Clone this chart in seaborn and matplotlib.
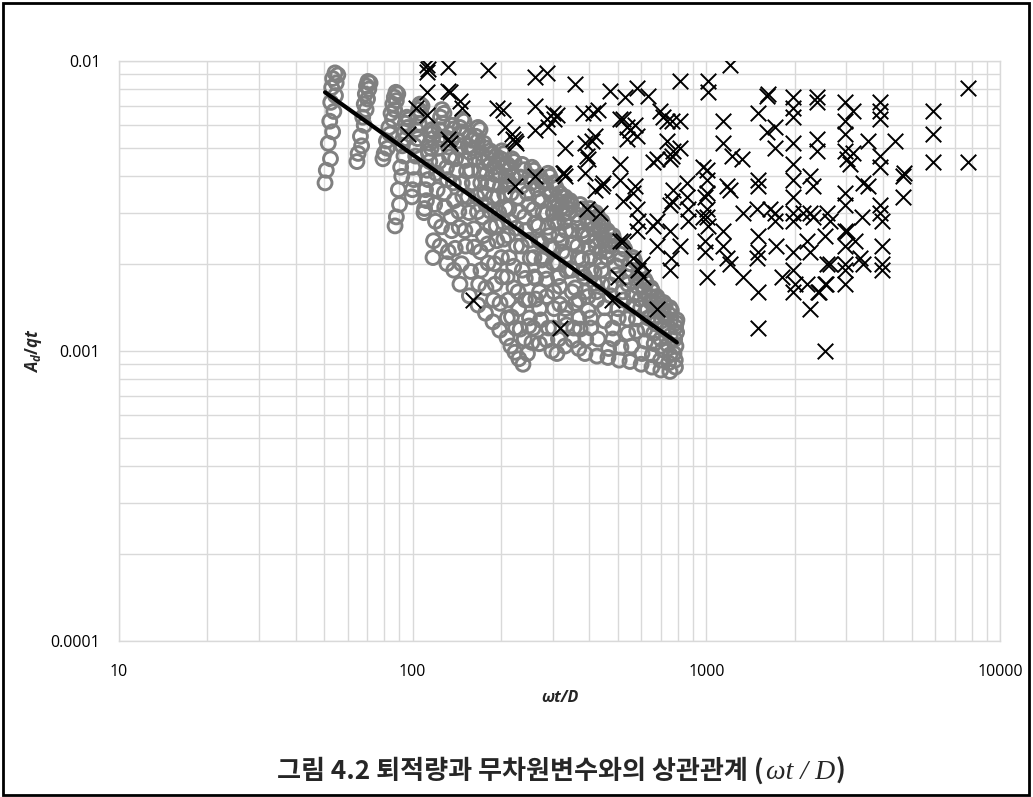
import matplotlib
matplotlib.use("Agg")
import matplotlib.pyplot as plt
import seaborn as sns
import pandas as pd
from matplotlib.ticker import FixedLocator, FixedFormatter, LogLocator, NullFormatter
from matplotlib.patches import Rectangle

# Gray open circles: deposition ratio per run, one row per streak (omega t / D, A_d / qt)
circle_x = [
    54.4, 55.6, 53.4, 54.9, 53.0, 54.6, 52.6, 53.9, 52.2, 53.4, 51.6, 52.5, 50.8, 50.3,
    70.4, 71.6, 69.6, 70.9, 69.0, 70.2, 68.4, 69.4, 67.6, 68.4, 66.4, 67.0, 65.2, 64.6,
    87.7, 89.0, 86.6, 88.0, 85.6, 86.8, 84.4, 85.4, 83.0, 83.8, 81.4, 82.0, 80.0, 79.2,
    95.6, 97.0, 94.4, 96.0, 93.6, 94.8, 92.2, 93.4, 91.0, 91.8, 89.4, 90.2, 88.0, 87.1,
    105.9, 107.6, 104.8, 106.6, 104.0, 105.2, 102.8, 104.0, 101.6, 102.4, 100.2, 101.0, 99.8, 99.4,
    116.4, 118.0, 115.2, 117.0, 114.4, 115.6, 113.2, 114.4, 112.0, 112.8, 110.6, 111.4, 109.8, 109.3,
    125.8, 127.8, 124.4, 126.4, 123.2, 124.6, 121.8, 123.0, 120.4, 121.2, 118.8, 119.6, 117.8, 117.3,
    147.2, 149.6, 144.8, 146.8, 142.6, 144.0, 140.0, 141.4, 137.6, 138.6, 135.0, 135.8, 132.2, 130.8,
    166.9, 169.6, 164.2, 166.6, 161.4, 163.0, 158.0, 159.6, 154.4, 155.6, 150.6, 151.4, 146.6, 144.9,
    183.4, 186.4, 181.0, 183.6, 178.6, 180.4, 175.8, 177.4, 173.0, 174.0, 170.0, 170.8, 167.8, 166.9,
    201.4, 204.6, 199.4, 202.4, 197.2, 199.0, 194.8, 196.4, 192.6, 193.6, 190.0, 190.8, 188.4, 187.7,
    217.9, 221.4, 215.6, 219.0, 214.0, 216.4, 212.4, 214.8, 211.0, 213.2, 209.6, 211.8, 210.0, 209.5,
    254.8, 258.6, 250.4, 253.8, 245.8, 248.4, 240.4, 242.6, 234.6, 236.2, 228.6, 229.6, 224.2, 223.0,
    288.9, 293.0, 282.8, 286.0, 275.6, 278.0, 267.6, 269.4, 258.8, 259.8, 249.4, 249.8, 240.0, 237.5,
    317.3, 321.4, 310.2, 313.2, 301.4, 303.8, 292.2, 293.8, 281.6, 282.4, 270.4, 270.6, 257.4, 254.8,
    343.2, 347.6, 336.8, 340.4, 329.6, 332.4, 321.2, 323.2, 312.4, 313.6, 302.6, 303.2, 290.0, 286.6,
    401.5, 406.0, 391.6, 395.0, 378.6, 381.2, 364.0, 365.8, 348.2, 349.0, 331.4, 331.2, 313.6, 309.9,
    441.1, 446.0, 431.2, 435.0, 418.2, 421.2, 402.6, 404.8, 385.6, 386.6, 368.4, 368.6, 353.8, 351.4,
    480.8, 486.0, 470.2, 474.0, 456.2, 459.6, 439.8, 442.2, 421.8, 423.0, 403.6, 404.0, 388.6, 386.1,
    562.6, 568.8, 550.6, 555.0, 536.4, 540.4, 519.8, 522.6, 499.6, 501.2, 479.8, 480.4, 464.8, 462.4,
    617.9, 624.0, 608.6, 612.4, 594.6, 597.6, 578.0, 579.2, 556.0, 549.5,
    678.9, 686.0, 672.6, 679.4, 667.4, 672.0, 661.4, 664.4, 655.0, 652.9,
    751.7, 760.0, 744.0, 756.0, 742.0, 754.0, 740.0, 752.0, 744.0, 751.7,
    794.0, 790.0, 786.0, 792.0, 780.0, 788.0, 776.0, 784.0, 785.0,
    136.0, 138.0, 134.0, 135.8, 132.4, 133.6, 130.4, 131.2, 128.2, 128.6, 125.4, 124.0,
    157.0, 159.6, 154.4, 156.4, 151.2, 152.6, 147.4, 148.2, 143.6, 144.0, 139.6, 138.0,
    175.0, 177.8, 172.4, 174.4, 169.2, 170.6, 165.4, 166.2, 161.6, 162.0, 157.6, 156.0,
    192.0, 195.0, 189.6, 191.6, 186.8, 188.0, 183.4, 184.2, 180.2, 180.6, 177.6, 177.0,
    210.0, 213.4, 208.0, 210.6, 205.8, 207.4, 203.2, 204.4, 200.6, 201.6, 198.4, 198.0,
    236.0, 239.6, 232.6, 235.0, 228.6, 230.4, 224.6, 225.8, 220.8, 221.4, 217.0, 216.0,
    271.0, 275.4, 265.0, 268.2, 258.4, 260.6, 250.2, 251.4, 241.8, 242.0, 232.4, 230.0,
    303.0, 308.0, 295.0, 298.6, 286.0, 288.4, 274.6, 275.8, 262.4, 262.6, 249.0, 246.0,
    330.0, 335.4, 321.6, 325.6, 311.8, 314.4, 299.6, 300.8, 285.8, 286.0, 272.6, 270.0,
    372.0, 378.0, 361.6, 366.0, 349.0, 352.0, 333.6, 335.0, 316.8, 317.0, 301.0, 298.0,
    420.0, 427.0, 408.0, 413.0, 394.4, 397.6, 376.6, 378.4, 357.6, 358.0, 334.0, 330.0,
    460.0, 467.0, 447.6, 452.4, 433.4, 436.4, 414.8, 416.6, 395.6, 396.0, 372.0, 368.0,
    520.0, 527.6, 507.2, 512.4, 491.2, 494.6, 471.2, 473.0, 450.0, 450.4, 428.0, 424.0,
    590.0, 598.0, 578.0, 583.0, 561.0, 563.4, 538.6, 540.0, 512.0, 505.0,
    648.0, 655.0, 639.0, 645.0, 630.0, 634.0, 618.0, 621.0, 604.0, 600.0,
    715.0, 724.0, 708.0, 718.0, 704.0, 713.0, 700.0, 709.0, 698.0, 700.0,
]
circle_y = [
    0.0091, 0.00895, 0.0087, 0.0084, 0.0081, 0.0076, 0.0072, 0.0067, 0.0062, 0.0057, 0.0052, 0.0046, 0.0042, 0.0038,
    0.0085, 0.0084, 0.0082, 0.0080, 0.0077, 0.0074, 0.0071, 0.0068, 0.0064, 0.0060, 0.0055, 0.0051, 0.0048, 0.0045,
    0.0078, 0.0077, 0.0075, 0.0073, 0.0071, 0.0068, 0.0066, 0.0063, 0.0059, 0.0056, 0.0053, 0.0050, 0.0048, 0.0046,
    0.0064, 0.0063, 0.0061, 0.0059, 0.0057, 0.0054, 0.0051, 0.0047, 0.0043, 0.0040, 0.0036, 0.0032, 0.0029, 0.0027,
    0.0071, 0.0070, 0.0068, 0.0066, 0.0064, 0.0061, 0.0058, 0.0054, 0.0051, 0.0047, 0.0043, 0.0039, 0.0036, 0.0034,
    0.0058, 0.0057, 0.0056, 0.0054, 0.0052, 0.0050, 0.0048, 0.0045, 0.0042, 0.0039, 0.0036, 0.0033, 0.0031, 0.0030,
    0.0068, 0.0066, 0.0064, 0.0061, 0.0058, 0.0054, 0.0050, 0.0045, 0.0041, 0.0036, 0.0032, 0.0028, 0.0024, 0.0021,
    0.0063, 0.0062, 0.0059, 0.0057, 0.0053, 0.0050, 0.0046, 0.0042, 0.0038, 0.0033, 0.0029, 0.0026, 0.0022, 0.0020,
    0.0059, 0.0058, 0.0055, 0.0053, 0.0050, 0.0046, 0.0042, 0.0038, 0.0034, 0.0030, 0.0026, 0.0023, 0.0020, 0.0017,
    0.0049, 0.0048, 0.0046, 0.0044, 0.0041, 0.0038, 0.0035, 0.0032, 0.0029, 0.0025, 0.0022, 0.0019, 0.0017, 0.00144,
    0.0049, 0.0048, 0.0046, 0.0043, 0.0041, 0.0037, 0.0034, 0.0030, 0.0027, 0.0024, 0.0020, 0.0017, 0.0015, 0.00126,
    0.0046, 0.0045, 0.0043, 0.0040, 0.0038, 0.0035, 0.0031, 0.0028, 0.0025, 0.0021, 0.0018, 0.0015, 0.0013, 0.00111,
    0.0043, 0.0042, 0.0040, 0.0038, 0.0035, 0.0032, 0.0029, 0.0026, 0.0023, 0.0019, 0.0016, 0.0014, 0.0012, 0.00099,
    0.0041, 0.0040, 0.0038, 0.0036, 0.0033, 0.0030, 0.0027, 0.0024, 0.0021, 0.0018, 0.0015, 0.0013, 0.0011, 0.00090,
    0.0035, 0.0034, 0.0033, 0.0032, 0.0030, 0.0028, 0.0025, 0.0023, 0.0021, 0.0019, 0.0016, 0.0014, 0.0012, 0.00107,
    0.0033, 0.0032, 0.0031, 0.0030, 0.0028, 0.0026, 0.0024, 0.0022, 0.0020, 0.0018, 0.0016, 0.0014, 0.0012, 0.00109,
    0.0031, 0.0030, 0.0029, 0.0028, 0.0026, 0.0025, 0.0023, 0.0021, 0.0019, 0.0016, 0.0014, 0.0013, 0.0011, 0.00098,
    0.0028, 0.0027, 0.0027, 0.0026, 0.0024, 0.0023, 0.0021, 0.0019, 0.0018, 0.0016, 0.0015, 0.0013, 0.0012, 0.00109,
    0.0025, 0.0024, 0.0024, 0.0023, 0.0022, 0.0021, 0.0019, 0.0017, 0.0016, 0.0015, 0.0013, 0.0012, 0.0011, 0.00098,
    0.0021, 0.00205, 0.0020, 0.0019, 0.0018, 0.0017, 0.0016, 0.0015, 0.0014, 0.0013, 0.0012, 0.00110, 0.00102, 0.00095,
    0.00176, 0.00172, 0.00167, 0.00160, 0.00151, 0.00141, 0.00129, 0.00117, 0.00104, 0.00092,
    0.00154, 0.00150, 0.00146, 0.00140, 0.00132, 0.00124, 0.00115, 0.00106, 0.00097, 0.00088,
    0.00141, 0.00138, 0.00134, 0.00128, 0.00121, 0.00113, 0.00105, 0.00097, 0.00091, 0.00085,
    0.00128, 0.00125, 0.00121, 0.00116, 0.00110, 0.00104, 0.00098, 0.00093, 0.00088,
    0.0060, 0.00583, 0.00561, 0.00535, 0.00505, 0.00467, 0.00429, 0.0039, 0.00351, 0.00313, 0.00268, 0.0023,
    0.0055, 0.00533, 0.0051, 0.00484, 0.00454, 0.00417, 0.00379, 0.00341, 0.00303, 0.00267, 0.00226, 0.0019,
    0.0052, 0.00501, 0.00478, 0.0045, 0.00418, 0.0038, 0.0034, 0.00302, 0.00264, 0.00228, 0.00188, 0.00155,
    0.0047, 0.00453, 0.00431, 0.00405, 0.00376, 0.0034, 0.00304, 0.00268, 0.00234, 0.00201, 0.00165, 0.00135,
    0.0044, 0.00423, 0.00401, 0.00376, 0.00347, 0.00312, 0.00278, 0.00243, 0.0021, 0.0018, 0.00146, 0.00118,
    0.0044, 0.00422, 0.00398, 0.0037, 0.00339, 0.00302, 0.00265, 0.0023, 0.00196, 0.00165, 0.00131, 0.00104,
    0.0040, 0.00383, 0.00362, 0.00336, 0.00308, 0.00275, 0.00241, 0.00209, 0.00178, 0.0015, 0.00119, 0.00094,
    0.0038, 0.00365, 0.00345, 0.00323, 0.00298, 0.00267, 0.00236, 0.00206, 0.00178, 0.00151, 0.00122, 0.00098,
    0.0034, 0.00328, 0.00313, 0.00296, 0.00276, 0.00251, 0.00226, 0.00201, 0.00177, 0.00154, 0.00128, 0.00106,
    0.0032, 0.00309, 0.00295, 0.00278, 0.0026, 0.00236, 0.00213, 0.00189, 0.00167, 0.00145, 0.0012, 0.0010,
    0.0030, 0.00291, 0.00278, 0.00264, 0.00248, 0.00228, 0.00207, 0.00186, 0.00165, 0.00146, 0.00123, 0.00104,
    0.0026, 0.00253, 0.00244, 0.00232, 0.0022, 0.00204, 0.00187, 0.00171, 0.00154, 0.00138, 0.00119, 0.00102,
    0.0023, 0.00224, 0.00216, 0.00207, 0.00197, 0.00183, 0.00169, 0.00155, 0.00141, 0.00127, 0.0011, 0.00096,
    0.0019, 0.00185, 0.00177, 0.00167, 0.00156, 0.00143, 0.00129, 0.00115, 0.00103, 0.00093,
    0.00165, 0.00161, 0.00155, 0.00148, 0.00139, 0.0013, 0.00119, 0.00108, 0.00098, 0.0009,
    0.00147, 0.00144, 0.00139, 0.00133, 0.00127, 0.00119, 0.0011, 0.00101, 0.00093, 0.00086,
]

# Black crosses: second data set (omega t / D, A_d / qt)
cross_x = [
    112, 113, 112, 112, 112, 132, 132, 134, 145, 147, 103, 96.4, 132, 134, 181, 160,
    194, 203, 206, 218, 223, 220, 225, 261, 287, 261, 261, 287, 289, 310, 300, 303,
    223, 261, 325, 330, 327, 330, 317,
    357, 380, 411, 427, 386, 417, 395, 386, 441, 446, 417, 392, 434, 470, 520, 550,
    581, 537, 507, 507, 572, 520, 581, 585, 581, 477, 507, 499, 603, 563, 585, 528,
    581, 632, 507, 537, 572, 408, 563, 520, 392,
    679, 770, 813, 696, 713, 734, 764, 813, 734, 813, 752, 764, 658, 679, 658, 770,
    764, 860, 752, 867, 867, 752, 679, 760, 813, 752, 608, 679, 973, 989, 973, 1013,
    1013, 1005, 1005, 1005, 1005, 1005, 1013, 989, 989, 1005, 860,
    1203, 1608, 1625, 1972, 1972, 1499, 1712, 1608, 1712, 1972, 1972, 1139, 1139, 1222,
    1322, 1176, 1203, 1499, 1499, 1487, 1646, 1712, 1712, 1972, 1972, 1972, 1972, 1972,
    1139, 1139, 1176, 1203, 1332, 1332, 1499, 1499, 1487, 1499, 1499, 1726, 1809, 1972,
    1972, 2004, 1972,
    2379, 2379, 2965, 3157, 3905, 3905, 3905, 5905, 5905, 5905, 7770, 7770, 2379, 2379,
    2965, 2965, 2965, 3012, 3084, 3551, 3905, 3905, 4388, 3157, 2254, 2308, 2254, 2308,
    2636, 2575, 2965, 2965, 3012, 3413, 3551, 3387, 3905, 3905, 3967, 4670, 4700, 4670,
    2133, 2200, 2254, 2200, 2398, 2420, 2254, 2575, 2636, 2965, 2965, 2965, 2965, 2965,
    3207, 3334, 3413, 3967, 3967, 3967, 2535, 2535, 2535, 2560,
]
cross_y = [
    0.0097, 0.0094, 0.0092, 0.0078, 0.0065, 0.0095, 0.0079, 0.0078, 0.0073, 0.0069, 0.0069, 0.0056, 0.0054, 0.0052, 0.0093, 0.0015,
    0.0069, 0.0068, 0.0059, 0.0056, 0.0053, 0.0054, 0.0052, 0.0088, 0.0091, 0.0070, 0.0058, 0.0063, 0.0059, 0.0065, 0.0066, 0.0063,
    0.0037, 0.0040, 0.0041, 0.0040, 0.0041, 0.0050, 0.0012,
    0.0083, 0.0066, 0.0066, 0.0068, 0.0052, 0.0055, 0.0046, 0.0041, 0.0037, 0.0038, 0.0036, 0.0031, 0.0030, 0.0079, 0.0063, 0.0058,
    0.0055, 0.0054, 0.0044, 0.0039, 0.0037, 0.0033, 0.0031, 0.0028, 0.0026, 0.0015, 0.0024, 0.0018, 0.0020, 0.0021, 0.0019, 0.0075,
    0.0081, 0.0076, 0.0063, 0.0059, 0.0060, 0.0053, 0.0035, 0.0024, 0.0047,
    0.0046, 0.0049, 0.0085, 0.0067, 0.0064, 0.0062, 0.0062, 0.0062, 0.0053, 0.0050, 0.0046, 0.0047, 0.0045, 0.0028, 0.0027, 0.0036,
    0.0033, 0.0038, 0.0032, 0.0031, 0.0028, 0.0026, 0.0023, 0.0021, 0.0023, 0.0019, 0.0018, 0.0014, 0.0043, 0.0034, 0.0029, 0.0085,
    0.0078, 0.0042, 0.0039, 0.0035, 0.0031, 0.0029, 0.0027, 0.0024, 0.0022, 0.0018, 0.0034,
    0.0097, 0.0076, 0.0077, 0.0075, 0.0069, 0.0066, 0.0059, 0.0057, 0.0050, 0.0064, 0.0052, 0.0062, 0.0052, 0.0047,
    0.0046, 0.0037, 0.0036, 0.0039, 0.0037, 0.0031, 0.0031, 0.0030, 0.0028, 0.0044, 0.0039, 0.0034, 0.0030, 0.0028,
    0.0026, 0.0023, 0.0021, 0.0020, 0.0030, 0.0018, 0.0025, 0.0022, 0.0021, 0.0016, 0.0012, 0.0023, 0.0018, 0.0022,
    0.0019, 0.0017, 0.0016,
    0.0075, 0.0072, 0.0072, 0.0067, 0.0072, 0.0067, 0.0063, 0.0067, 0.0056, 0.0045, 0.0081, 0.0045, 0.0054, 0.0049,
    0.0062, 0.0056, 0.0049, 0.0046, 0.0044, 0.0053, 0.0047, 0.0043, 0.0053, 0.0048, 0.0040, 0.0037, 0.0030, 0.0029,
    0.0028, 0.0030, 0.0035, 0.0032, 0.0026, 0.0038, 0.0037, 0.0029, 0.0032, 0.0030, 0.0028, 0.0040, 0.0041, 0.0034,
    0.0030, 0.0024, 0.0022, 0.0017, 0.0016, 0.0016, 0.0014, 0.0020, 0.0020, 0.0026, 0.0023, 0.0020, 0.0019, 0.0017,
    0.0024, 0.0021, 0.0020, 0.0023, 0.0020, 0.0019, 0.0010, 0.0025, 0.0017, 0.0017,
]

# Power-law trend line through the circle data (end points)
fit_x = [50.3, 794.0]
fit_y = [0.0078, 0.00107]

x_ticks = [10, 100, 1000, 10000]
x_tick_labels = ["10", "100", "1000", "10000"]
y_ticks = [0.0001, 0.001, 0.01]
y_tick_labels = ["0.0001", "0.001", "0.01"]

x_label = "ωt/D"
y_label = "$A_d/qt$"
title_main = "그림 4.2 퇴적량과 무차원변수와의 상관관계 ("
title_math = "ωt / D"
title_end = ")"

sns.set_theme(style="white")
plt.rcParams["font.family"] = ["Open Sans", "DejaVu Sans"]
plt.rcParams["mathtext.fontset"] = "custom"
plt.rcParams["mathtext.it"] = "Open Sans:italic:bold"
plt.rcParams["mathtext.rm"] = "Open Sans:bold"
plt.rcParams["mathtext.bf"] = "Open Sans:bold"

W, H = 1033, 797
fig = plt.figure(figsize=(W / 100, H / 100), dpi=100)
fig.patch.set_facecolor("white")

ax_left, ax_right, ax_top, ax_bottom = 119, 1000, 61, 641
ax = fig.add_axes([ax_left / W, 1 - ax_bottom / H,
                   (ax_right - ax_left) / W, (ax_bottom - ax_top) / H])
ax.set_xscale("log")
ax.set_yscale("log")

circles = pd.DataFrame({"x": circle_x, "y": circle_y})
crosses = pd.DataFrame({"x": cross_x, "y": cross_y})
trend = pd.DataFrame({"x": fit_x, "y": fit_y})

sns.scatterplot(data=circles, x="x", y="y", ax=ax, marker="o", s=100,
                facecolor="none", edgecolor="#808080", linewidth=2.1,
                zorder=3, legend=False)
sns.scatterplot(data=crosses, x="x", y="y", ax=ax, marker="x", s=125,
                color="black", linewidth=1.4, zorder=4, legend=False)
sns.lineplot(data=trend, x="x", y="y", ax=ax, color="black", linewidth=3.0,
             zorder=5, legend=False)

ax.set_xlim(10, 10000)
ax.set_ylim(0.0001, 0.01)

ax.xaxis.set_major_locator(FixedLocator(x_ticks))
ax.xaxis.set_major_formatter(FixedFormatter(x_tick_labels))
ax.yaxis.set_major_locator(FixedLocator(y_ticks))
ax.yaxis.set_major_formatter(FixedFormatter(y_tick_labels))
ax.xaxis.set_minor_locator(LogLocator(base=10, subs=range(2, 10), numticks=20))
ax.yaxis.set_minor_locator(LogLocator(base=10, subs=range(2, 10), numticks=20))
ax.xaxis.set_minor_formatter(NullFormatter())
ax.yaxis.set_minor_formatter(NullFormatter())

ax.grid(True, which="both", color="#d9d9d9", linewidth=1.0, zorder=0)
ax.set_axisbelow(True)
for sp in ax.spines.values():
    sp.set_color("#d9d9d9")
    sp.set_linewidth(1.0)

ax.tick_params(axis="both", which="both", length=0, labelsize=11.5, colors="black")
ax.tick_params(axis="x", pad=16.5)
ax.tick_params(axis="y", pad=13.5)

ax.set_xlabel(x_label, fontsize=11.5, fontweight="bold", fontstyle="italic")
ax.set_ylabel(y_label, fontsize=12)
ax.xaxis.set_label_coords(0.5, -(690 - ax_bottom) / (ax_bottom - ax_top))
ax.yaxis.set_label_coords(-(ax_left - 33) / (ax_right - ax_left), 0.5)
ax.yaxis.label.set_verticalalignment("center")

# Figure caption with the dimensionless group set in serif italic
base_y = 1 - 779 / H
t1 = fig.text(277 / W, base_y, title_main, fontsize=18.8, fontweight="bold",
              family=["Noto Sans CJK KR", "DejaVu Sans"], va="baseline", ha="left")
fig.canvas.draw()
r = fig.canvas.get_renderer()
bb = t1.get_window_extent(r)
t2 = fig.text(bb.x1 / W + 2 / W, base_y, title_math, fontsize=20,
              family=["Liberation Serif"], fontstyle="italic",
              va="baseline", ha="left")
bb2 = t2.get_window_extent(r)
fig.text(bb2.x1 / W + 1 / W, base_y, title_end, fontsize=18.8, fontweight="bold",
         family=["Noto Sans CJK KR", "DejaVu Sans"], va="baseline", ha="left")

# Outer frame
fig.patches.append(Rectangle((3 / W, 2 / H), (1029 - 3) / W, (795 - 3) / H,
                             transform=fig.transFigure, fill=False,
                             edgecolor="black", linewidth=2.0))

fig.savefig("out.png", dpi=100, facecolor="white")
